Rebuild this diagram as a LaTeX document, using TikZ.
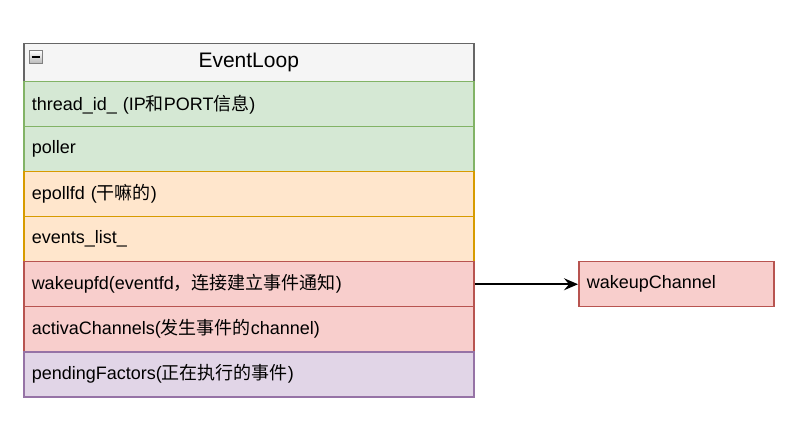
\documentclass[tikz,border=0pt]{standalone}
\usepackage{fontspec}
\setmainfont{Liberation Sans}
\newfontfamily\cjk{Noto Sans CJK SC}
\usetikzlibrary{arrows.meta}
\definecolor{hdfill}{HTML}{F5F5F5}
\definecolor{hdline}{HTML}{666666}
\definecolor{gfill}{HTML}{D5E8D4}
\definecolor{gline}{HTML}{82B366}
\definecolor{ofill}{HTML}{FFE6CC}
\definecolor{oline}{HTML}{D79B00}
\definecolor{rfill}{HTML}{F8CECC}
\definecolor{rline}{HTML}{B85450}
\definecolor{pfill}{HTML}{E1D5E7}
\definecolor{pline}{HTML}{9673A6}
\tikzset{
  rowbox/.style={rectangle, anchor=north west, minimum width=450pt, minimum height=45pt,
    inner xsep=8pt, inner ysep=0pt, text width=434pt, align=left,
    font=\fontsize{18}{21}\selectfont, line width=1.5pt},
  greenrow/.style={rowbox, fill=gfill, draw=gline},
  orangerow/.style={rowbox, fill=ofill, draw=oline},
  redrow/.style={rowbox, fill=rfill, draw=rline},
  purplerow/.style={rowbox, fill=pfill, draw=pline},
}
\begin{document}
\begin{tikzpicture}[x=1pt,y=-1pt]
\useasboundingbox (0,0) rectangle (800,427);
% header
\node[rectangle, anchor=north west, minimum width=450pt, minimum height=38pt, fill=hdfill, draw=hdline, line width=1.5pt,
  font=\fontsize{21}{25}\selectfont] (hdr) at (23,43) {EventLoop};
\node[rectangle, anchor=north west, minimum width=13pt, minimum height=13pt, inner sep=0pt,
  top color=white, bottom color=gray!55, draw=gray, line width=0.7pt] (mini) at (29,50) {};
\draw[line width=1.5pt] ([xshift=2.5pt]mini.west) -- ([xshift=-2.5pt]mini.east);
% rows
\node[greenrow] (r1) at (23,81) {thread\_id\_ (IP{\cjk 和}PORT{\cjk 信息})};
\node[greenrow] (r2) at (23,126) {poller};
\node[orangerow] (r3) at (23,171) {epollfd ({\cjk 干嘛的})};
\node[orangerow] (r4) at (23,216) {events\_list\_};
\node[redrow] (r5) at (23,261) {wakeupfd(eventfd{\cjk ，连接建立事件通知})};
\node[redrow] (r6) at (23,306) {activaChannels({\cjk 发生事件的}channel)};
\node[purplerow] (r7) at (23,351) {pendingFactors({\cjk 正在执行的事件})};
% right box
\node[redrow, minimum width=195pt, text width=179pt] (wc) at (578,261) {wakeupChannel};
\draw[line width=1.5pt, -{Stealth[length=14pt,width=12pt,inset=5pt]}] (r5.east) -- (wc.west);
\end{tikzpicture}
\end{document}
